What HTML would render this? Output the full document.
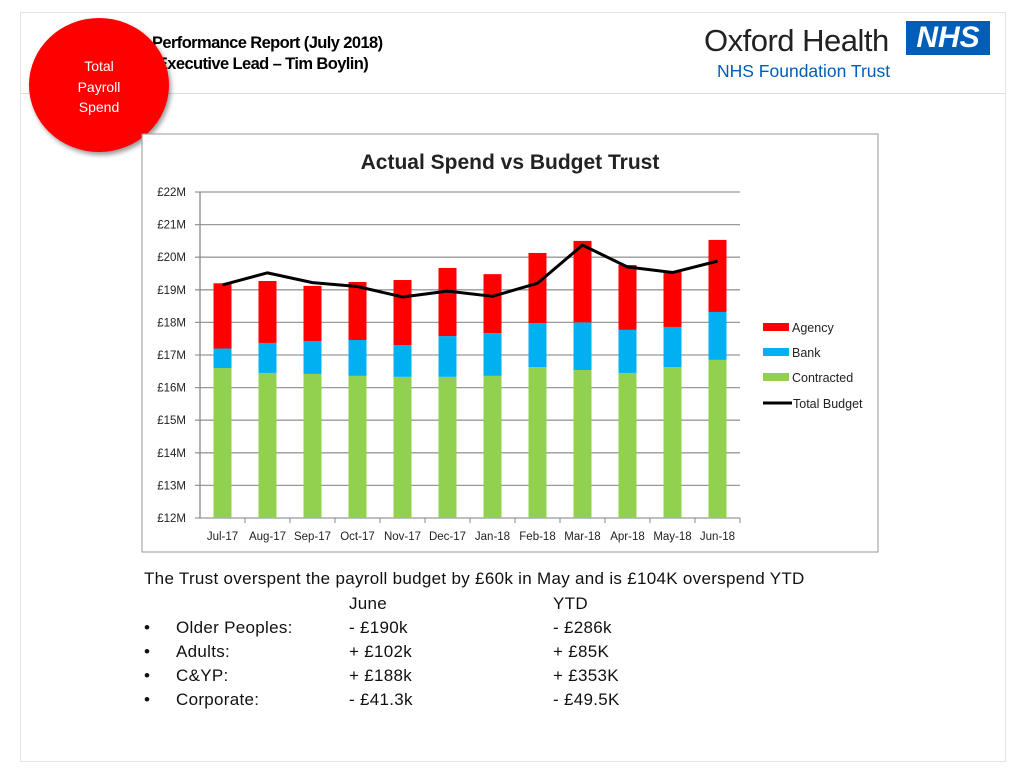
<!DOCTYPE html>
<html><head><meta charset="utf-8"><style>
body{margin:0;width:1024px;height:768px;background:#fff;position:relative;overflow:hidden;font-family:"Liberation Sans",sans-serif}
.abs{position:absolute}
.hdr{font-family:"Liberation Sans",sans-serif;font-weight:bold;font-size:16.5px;color:#000;letter-spacing:-0.6px}
.body{font-size:17px;color:#111;letter-spacing:0.3px}
</style></head><body>
<div class="abs" style="left:20px;top:12px;width:984px;height:748px;border:1px solid #e4e4e4"></div>
<div class="abs" style="left:20px;top:93px;width:985px;height:1px;background:#ddd"></div>
<div class="abs hdr" style="left:152px;top:34px">Performance Report (July 2018)</div>
<div class="abs hdr" style="left:152px;top:55px">(Executive Lead – Tim Boylin)</div>
<div class="abs" style="left:29px;top:18px;width:140px;height:134px;border-radius:50%;background:#f00;box-shadow:2px 3px 5px rgba(0,0,0,0.4);color:#fff;font-size:14px;line-height:20.5px;text-align:center;padding-top:38px;box-sizing:border-box">Total<br>Payroll<br>Spend</div>
<div class="abs" style="left:704px;top:23px;font-size:31px;color:#222;letter-spacing:-0.5px">Oxford Health</div>
<div class="abs" style="left:906px;top:21px;width:84px;height:34px;background:#005eb8;color:#fff;font-weight:bold;font-style:italic;font-size:30px;line-height:34px;text-align:center">NHS</div>
<div class="abs" style="left:717px;top:61px;font-size:17.5px;color:#005eb8">NHS Foundation Trust</div>

<svg class="abs" style="left:0;top:0" width="1024" height="768">
<rect x="142" y="134" width="736" height="418" fill="#fff" stroke="#999"/>
<text x="510" y="169" text-anchor="middle" font-size="21" font-weight="bold" fill="#222">Actual Spend vs Budget Trust</text>
<g id="grid"></g><g id="bars"></g><g id="line"></g><g id="axes"></g>
<g font-size="12.5" fill="#222">
<rect x="763" y="323" width="26" height="8" fill="#f00"/><text x="792" y="332">Agency</text>
<rect x="763" y="348" width="26" height="8" fill="#00b0f0"/><text x="792" y="357">Bank</text>
<rect x="763" y="373" width="26" height="8" fill="#92d050"/><text x="792" y="382">Contracted</text>
<line x1="763" y1="403" x2="792" y2="403" stroke="#000" stroke-width="3"/><text x="793" y="408">Total Budget</text>
</g>
</svg>

<div class="abs body" style="left:144px;top:569px;white-space:nowrap">The Trust overspent the payroll budget by £60k in May and is £104K overspend YTD</div>
<div class="abs body" style="left:349px;top:594px">June</div>
<div class="abs body" style="left:553px;top:594px">YTD</div>
<div class="abs body" style="left:144px;top:618px">•<span style="position:absolute;left:32px;white-space:nowrap">Older Peoples:</span><span style="position:absolute;left:205px;white-space:nowrap">- £190k</span><span style="position:absolute;left:409px;white-space:nowrap">- £286k</span></div>
<div class="abs body" style="left:144px;top:642px">•<span style="position:absolute;left:32px">Adults:</span><span style="position:absolute;left:205px;white-space:nowrap">+ £102k</span><span style="position:absolute;left:409px;white-space:nowrap">+ £85K</span></div>
<div class="abs body" style="left:144px;top:666px">•<span style="position:absolute;left:32px">C&amp;YP:</span><span style="position:absolute;left:205px;white-space:nowrap">+ £188k</span><span style="position:absolute;left:409px;white-space:nowrap">+ £353K</span></div>
<div class="abs body" style="left:144px;top:690px">•<span style="position:absolute;left:32px">Corporate:</span><span style="position:absolute;left:205px;white-space:nowrap">- £41.3k</span><span style="position:absolute;left:409px;white-space:nowrap">- £49.5K</span></div>

<script>
const months=["Jul-17","Aug-17","Sep-17","Oct-17","Nov-17","Dec-17","Jan-18","Feb-18","Mar-18","Apr-18","May-18","Jun-18"];
const contracted=[16.6,16.45,16.42,16.36,16.33,16.33,16.36,16.63,16.54,16.45,16.63,16.85];
const bank=[0.6,0.92,1.01,1.1,0.97,1.25,1.31,1.35,1.46,1.32,1.23,1.47];
const agency=[2.0,1.9,1.69,1.78,2.0,2.09,1.81,2.15,2.5,1.99,1.72,2.21];
const budget=[19.15,19.52,19.22,19.1,18.78,18.96,18.8,19.2,20.37,19.7,19.53,19.88];
const yTicks=[12,13,14,15,16,17,18,19,20,21,22];
const NS="http://www.w3.org/2000/svg";
const X0=200,BW=45,Y0=518,PM=32.6,YMIN=12;
const y=v=>Y0-(v-YMIN)*PM;
const xc=i=>X0+BW*(i+0.5);
function mk(t,a,p){const e=document.createElementNS(NS,t);for(const k in a)e.setAttribute(k,a[k]);p.appendChild(e);return e;}
const grid=document.getElementById('grid'),bars=document.getElementById('bars'),line=document.getElementById('line'),axes=document.getElementById('axes');
yTicks.forEach(v=>{
 const l=mk('line',{x1:X0-5,x2:740,y1:y(v),y2:y(v),stroke:'#999','stroke-width':1.3},grid);
 
 
 const t=mk('text',{x:186,y:y(v)+4,'text-anchor':'end','font-size':11.5,fill:'#222'},axes);
 t.textContent='£'+v+'M';
 
 
});
const ax=mk('line',{x1:X0,x2:X0,y1:y(22),y2:Y0,stroke:'#888','stroke-width':1.3},axes);


months.forEach((m,i)=>{
 const tk=mk('line',{x1:X0+BW*(i+1),x2:X0+BW*(i+1),y1:Y0,y2:Y0+5,stroke:'#888'},axes);
 
 
 const t=mk('text',{x:xc(i),y:540,'text-anchor':'middle','font-size':11.5,fill:'#222'},axes);
 t.textContent=m;
 
 
 const b1=contracted[i], b2=b1+bank[i], b3=b2+agency[i];
 const segs=[[YMIN,b1,'#92d050','contracted'],[b1,b2,'#00b0f0','bank'],[b2,b3,'#f00','agency']];
 segs.forEach(s=>{
  const r=mk('rect',{x:xc(i)-9,width:18,y:y(s[1]),height:y(s[0])-y(s[1]),fill:s[2]},bars);
  
  
 });
});
const pl=mk('polyline',{points:budget.map((v,i)=>xc(i)+','+y(v)).join(' '),fill:'none',stroke:'#000','stroke-width':3,'stroke-linejoin':'round'},line);


</script>
</body></html>
